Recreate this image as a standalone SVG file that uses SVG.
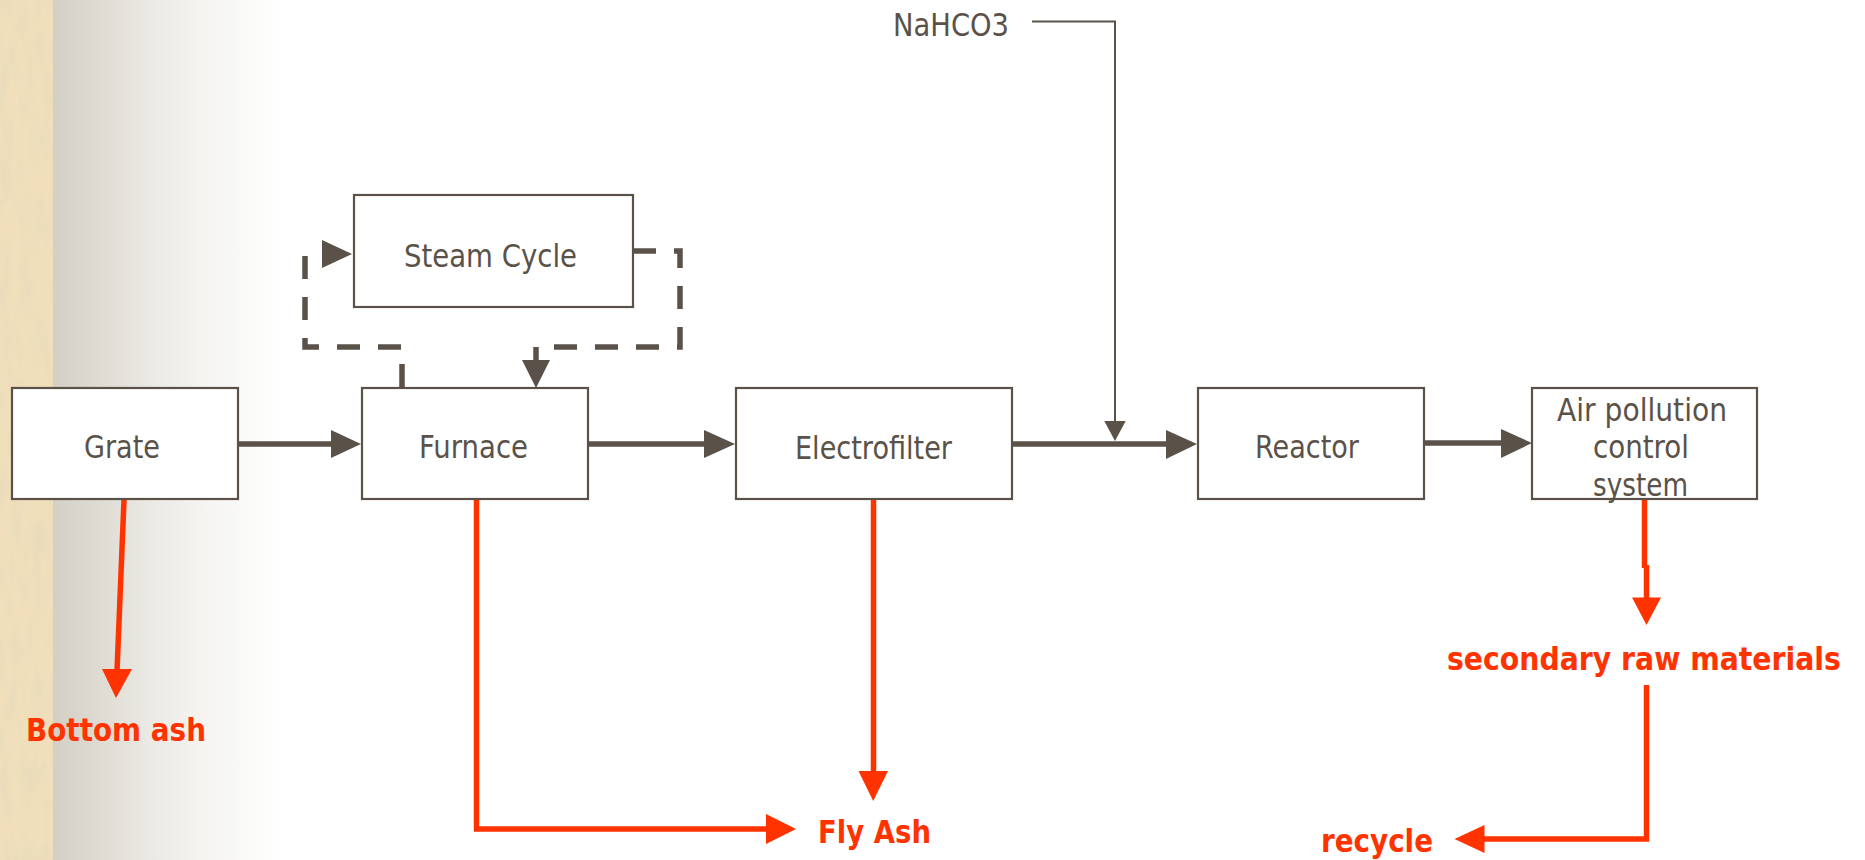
<svg xmlns="http://www.w3.org/2000/svg" width="1865" height="860" viewBox="0 0 1865 860">
<defs>
<style>
.box{fill:#ffffff;stroke:#5a5249;stroke-width:2.2}
.lbl{font-family:"DejaVu Sans","Liberation Sans",sans-serif;font-size:32.5px;fill:#5a5249}
.red{font-family:"DejaVu Sans","Liberation Sans",sans-serif;font-size:32px;font-weight:bold;fill:#ff3300}
.gl{fill:none;stroke:#5a5249;stroke-width:5.5;stroke-linecap:round}
.dash{fill:none;stroke:#5a5249;stroke-width:5.5;stroke-dasharray:23 18}
.thin{fill:none;stroke:#5a5249;stroke-width:2}
.rl{fill:none;stroke:#ff3300;stroke-width:5.5;stroke-linecap:butt}
.gh{fill:#5a5249}
.rh{fill:#ff3300}
</style>
<linearGradient id="fade" x1="0" y1="0" x2="1" y2="0">
<stop offset="0" stop-color="#d3cfc5"/>
<stop offset="0.2" stop-color="#dedbd3"/>
<stop offset="0.42" stop-color="#ebe9e4"/>
<stop offset="0.65" stop-color="#f5f4f1"/>
<stop offset="1" stop-color="#ffffff"/>
</linearGradient>
<filter id="tex" x="0" y="0" width="100%" height="100%">
<feTurbulence type="fractalNoise" baseFrequency="0.09 0.025" numOctaves="3" seed="7"/>
<feColorMatrix type="matrix" values="0 0 0 0 0.82  0 0 0 0 0.71  0 0 0 0 0.50  2.4 0 0 0 -0.95"/>
</filter>
</defs>
<rect x="0" y="0" width="1865" height="860" fill="#ffffff"/>
<rect x="53" y="0" width="230" height="860" fill="url(#fade)"/>
<rect x="0" y="0" width="53" height="860" fill="#f0dfba"/>
<rect x="0" y="0" width="53" height="860" filter="url(#tex)"/>

<g id="connectors">
<path class="gl" d="M238,444 H332"/>
<polygon class="gh" points="331,430 361,444 331,458"/>
<path class="gl" d="M588,444 H706"/>
<polygon class="gh" points="704,430 735,444 704,458"/>
<path class="gl" d="M1011,444 H1168"/>
<polygon class="gh" points="1166,430 1197,444 1166,459"/>
<path class="gl" d="M1423,443 H1503"/>
<polygon class="gh" points="1501,429 1532,443 1501,458"/>
<path class="thin" d="M1032,21.5 H1115 V422"/>
<polygon class="gh" points="1104.3,421 1125.7,421 1115,441"/>
<path class="dash" d="M633,251 H680 V347 H536 V360"/>
<polygon class="gh" points="522,360 550,360 536,388"/>
<path class="dash" d="M402,387 V347 H305 V254 H320"/>
<polygon class="gh" points="322,240 352,254 322,268"/>
<path class="rl" d="M124,500 L117,671"/>
<polygon class="rh" points="102,669 132,669 116,698"/>
<path class="rl" d="M476.5,499 V829 H768"/>
<polygon class="rh" points="766,814 796,829 766,844"/>
<path class="rl" d="M873.5,499 V773"/>
<polygon class="rh" points="858.5,771 888,771 873.2,801"/>
<path class="rl" d="M1644.5,500 V568 M1646.5,565 V599"/>
<polygon class="rh" points="1632,597.5 1661,597.5 1646.5,625"/>
<path class="rl" d="M1646.5,685 V839 H1483"/>
<polygon class="rh" points="1484.5,825 1454.5,839 1484.5,853"/>
</g>

<g id="grate">
<rect class="box" x="12" y="388" width="226" height="111"/>
<text class="lbl" x="84" y="458" textLength="76" lengthAdjust="spacingAndGlyphs">Grate</text>
</g>
<g id="furnace">
<rect class="box" x="362" y="388" width="226" height="111"/>
<text class="lbl" x="419" y="458" textLength="109" lengthAdjust="spacingAndGlyphs">Furnace</text>
</g>
<g id="steam-cycle">
<rect class="box" x="354" y="195" width="279" height="112"/>
<text class="lbl" x="404" y="267" textLength="173" lengthAdjust="spacingAndGlyphs">Steam Cycle</text>
</g>
<g id="electrofilter">
<rect class="box" x="736" y="388" width="276" height="111"/>
<text class="lbl" x="795" y="459" textLength="157" lengthAdjust="spacingAndGlyphs">Electrofilter</text>
</g>
<g id="reactor">
<rect class="box" x="1198" y="388" width="226" height="111"/>
<text class="lbl" x="1255" y="458" textLength="104" lengthAdjust="spacingAndGlyphs">Reactor</text>
</g>
<g id="apc">
<rect class="box" x="1532" y="388" width="225" height="111"/>
<text class="lbl" x="1642" y="421" text-anchor="middle" textLength="170" lengthAdjust="spacingAndGlyphs">Air pollution</text>
<text class="lbl" x="1641" y="458" text-anchor="middle" textLength="96" lengthAdjust="spacingAndGlyphs">control</text>
<text class="lbl" x="1640.5" y="496" text-anchor="middle" textLength="95" lengthAdjust="spacingAndGlyphs">system</text>
</g>
<g id="nahco3">
<text class="lbl" x="893" y="36" textLength="116" lengthAdjust="spacingAndGlyphs">NaHCO3</text>
</g>
<g id="bottom-ash">
<text class="red" x="26" y="741" textLength="180" lengthAdjust="spacingAndGlyphs">Bottom ash</text>
</g>
<g id="fly-ash">
<text class="red" x="818" y="843" textLength="113" lengthAdjust="spacingAndGlyphs">Fly Ash</text>
</g>
<g id="secondary">
<text class="red" x="0" y="0" transform="translate(1447,670) scale(0.885,1)">secondary raw materials</text>
</g>
<g id="recycle">
<text class="red" x="1321" y="852" textLength="112" lengthAdjust="spacingAndGlyphs">recycle</text>
</g>
</svg>
